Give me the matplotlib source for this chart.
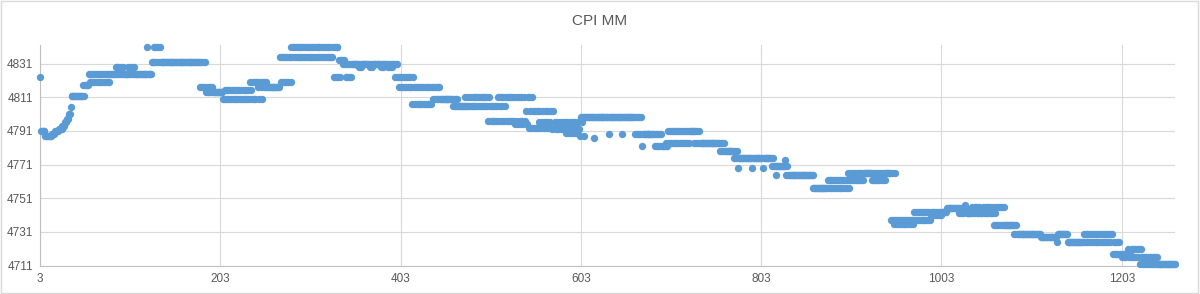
import matplotlib
matplotlib.use("Agg")
import matplotlib.pyplot as plt
import numpy as np

# CPI MM readings: (first x, last x, level)
seg_start = [3, 4, 9, 16, 20, 24, 28, 30, 33, 35, 36, 38, 51, 57, 57, 86, 101, 122, 128, 126,
             180, 186, 206, 206, 234, 244, 269, 269, 280, 327, 342, 333, 336, 356, 368, 380, 388,
             397, 399, 416, 438, 460, 474, 474, 511, 499, 539, 530, 544, 555, 571, 585, 602,
             618, 634, 649, 602, 663, 671, 685, 698, 698, 729, 757, 772, 777, 793, 805, 815,
             829, 820, 831, 860, 877, 926, 899, 946, 949, 973, 990, 1009, 1029, 1023, 1037,
             1048, 1059, 1082, 1112, 1131, 1131, 1143, 1160, 1192, 1209, 1201, 1223]
seg_end = [3, 8, 15, 19, 23, 27, 30, 33, 35, 36, 37, 52, 56, 80, 128, 96, 108, 122, 137, 186,
           194, 206, 239, 249, 255, 269, 284, 328, 333, 337, 349, 341, 400, 360, 372, 384, 393,
           417, 447, 438, 467, 485, 502, 519, 549, 543, 574, 544, 585, 604, 604, 600, 607,
           618, 634, 649, 670, 693, 671, 699, 735, 724, 763, 776, 816, 777, 793, 805, 833,
           829, 820, 860, 901, 916, 940, 953, 990, 971, 1009, 1003, 1031, 1029, 1062, 1046,
           1073, 1087, 1112, 1131, 1143, 1131, 1201, 1192, 1212, 1225, 1243, 1262]
seg_level = [4823, 4791, 4788, 4789, 4791, 4792, 4794, 4796, 4798, 4801, 4805, 4812, 4818, 4820,
             4825, 4829, 4829, 4841, 4841, 4832, 4817, 4814, 4815, 4810, 4820, 4817, 4820, 4835,
             4841, 4823, 4823, 4833, 4831, 4829, 4829, 4829, 4829, 4823, 4817, 4807, 4810, 4806,
             4811, 4806, 4811, 4797, 4803, 4795, 4793, 4796, 4792, 4790, 4788, 4787, 4789, 4789,
             4799, 4789, 4782, 4782, 4791, 4784, 4784, 4779, 4775, 4769, 4769, 4769, 4770, 4774,
             4765, 4765, 4757, 4762, 4762, 4766, 4738, 4736, 4743, 4741, 4745, 4747, 4742, 4746,
             4746, 4735, 4730, 4728, 4730, 4725, 4725, 4730, 4718, 4721, 4716, 4712]

x_ticks = [3, 203, 403, 603, 803, 1003, 1203]
y_ticks = [4711, 4731, 4751, 4771, 4791, 4811, 4831]

# build one value per period; where runs overlap the series flips between them
starts = np.array(seg_start)
ends = np.array(seg_end)
levels = np.array(seg_level)
xs = np.arange(starts.min(), ends.max() + 1)
ys = np.full(len(xs), np.nan)
for i, x in enumerate(xs):
    hit = np.where((starts <= x) & (ends >= x))[0]
    if len(hit) == 0:
        continue
    single = [h for h in hit if starts[h] == ends[h]]
    if single:
        ys[i] = levels[single[0]]
    else:
        ys[i] = levels[hit[x % len(hit)]]

plt.rcParams['font.family'] = ['Liberation Sans', 'DejaVu Sans']
fig = plt.figure(figsize=(12, 2.94), dpi=100)
ax = fig.add_axes([0.0333, 0.0963, 0.9458, 0.7507])

ax.plot(xs, ys, linestyle='none', marker='o', markersize=5.3,
        color='#5B9BD5', markeredgewidth=0, clip_on=False, zorder=3)

ax.set_xlim(3, 1262)
ax.set_ylim(4711, 4842)
ax.set_xticks(x_ticks)
ax.set_yticks(y_ticks)
ax.tick_params(length=0, labelsize=8.5, colors='#595959', pad=5)
ax.grid(True, color='#D9D9D9', linewidth=0.8)
ax.set_axisbelow(True)
for side in ['top', 'right']:
    ax.spines[side].set_visible(False)
for side in ['left', 'bottom']:
    ax.spines[side].set_color('#BFBFBF')
    ax.spines[side].set_linewidth(0.8)

fig.text(0.5, 1 - 21 / 294, 'CPI MM', ha='center', va='center',
         fontsize=11, color='#595959')

# chart area border
fig.patches.append(plt.Rectangle((0.001, 0.002), 0.997, 0.995, transform=fig.transFigure,
                                 fill=False, edgecolor='#D9D9D9', linewidth=1))

fig.savefig('out.png', dpi=100)
